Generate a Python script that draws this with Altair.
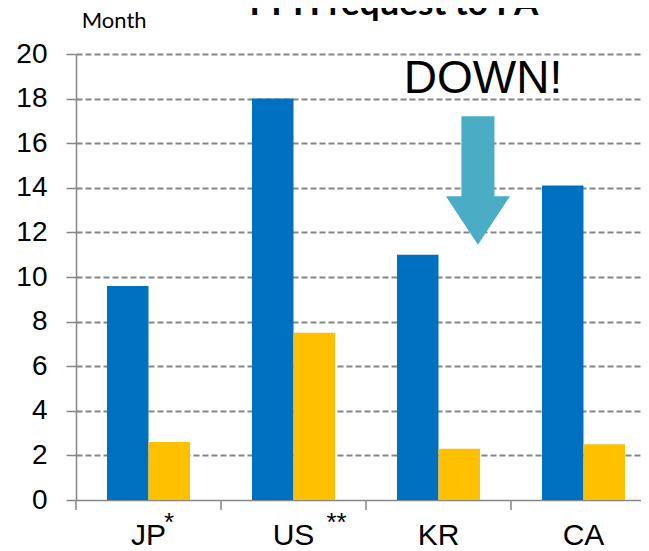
import altair as alt
import pandas as pd

# ---- data ----
countries = ["JP", "US", "KR", "CA"]
series_names = ["Normal", "PPH"]
normal_months = [9.6, 18.0, 11.0, 14.1]
pph_months = [2.6, 7.5, 2.3, 2.5]
series_colors = ["#0070C0", "#FFC000"]
y_ticks = [0, 2, 4, 6, 8, 10, 12, 14, 16, 18, 20]

title_text = "PPH request to FA"
unit_text = "Month"

# annotation: "DOWN!" text and arrow near KR
down_text = "DOWN!"
down_country = "KR"
down_value = 18.23
arrow_top = 17.2
arrow_tip = 11.45

# superscript marks next to axis labels
star_countries = ["JP", "US"]
star_texts = ["*", "**"]

rows = []
for i, c in enumerate(countries):
    rows.append({"country": c, "series": series_names[0], "months": normal_months[i]})
    rows.append({"country": c, "series": series_names[1], "months": pph_months[i]})
bars_df = pd.DataFrame(rows)

x_scale = alt.Scale(domain=countries, range=[0, 580], paddingInner=0, paddingOuter=0)
y_scale = alt.Scale(domain=[0, 20], nice=False)

GRAY = "#868686"

bars = alt.Chart(bars_df).mark_bar().encode(
    x=alt.X("country:N", scale=x_scale, sort=countries,
            axis=alt.Axis(title=None, ticks=False, tickSize=0, labelAngle=0,
                          labelFont="Liberation Sans", labelFontSize=30,
                          labelColor="black", labelPadding=20,
                          domainColor=GRAY, domainWidth=1.5, grid=False)),
    xOffset=alt.XOffset("series:N", sort=series_names,
                        scale=alt.Scale(paddingInner=0, paddingOuter=0.747)),
    y=alt.Y("months:Q", scale=y_scale,
            axis=alt.Axis(title=None, values=y_ticks, tickSize=10, tickColor=GRAY,
                          tickWidth=1.5, labelFont="Liberation Sans", labelFontSize=28,
                          labelColor="black", labelPadding=19,
                          domainColor=GRAY, domainWidth=1.5,
                          grid=True, gridColor=GRAY, gridWidth=2,
                          gridOpacity={"condition": {"test": "datum.value === 0", "value": 0},
                                       "value": 1},
                          gridDash=[6, 3])),
    color=alt.Color("series:N", sort=series_names,
                    scale=alt.Scale(domain=series_names, range=series_colors),
                    legend=None),
)

# category boundary ticks on the x axis
tick_df = pd.DataFrame({"country": countries})
xticks = alt.Chart(tick_df).mark_rule(color=GRAY, strokeWidth=1.5).encode(
    x=alt.X("country:N", scale=x_scale, sort=countries, bandPosition=0),
    y=alt.value(446),
    y2=alt.value(456),
)

# asterisks
star_df = pd.DataFrame({"country": star_countries, "txt": star_texts})
stars_jp = alt.Chart(star_df.iloc[[0]]).mark_text(
    font="Liberation Sans", fontSize=26, baseline="top", align="center", color="black"
).encode(
    x=alt.X("country:N", scale=x_scale, sort=countries, bandPosition=0.641),
    y=alt.value(456),
    text="txt:N",
)
stars_us = alt.Chart(star_df.iloc[[1]]).mark_text(
    font="Liberation Sans", fontSize=26, baseline="top", align="center", color="black"
).encode(
    x=alt.X("country:N", scale=x_scale, sort=countries, bandPosition=0.797),
    y=alt.value(456),
    text="txt:N",
)

# DOWN! text
down_df = pd.DataFrame({"country": [down_country], "v": [down_value], "txt": [down_text]})
down = alt.Chart(down_df).mark_text(
    font="Liberation Sans", fontSize=46, baseline="alphabetic", align="center", color="black"
).encode(
    x=alt.X("country:N", scale=x_scale, sort=countries, bandPosition=0.807),
    y=alt.Y("v:Q", scale=y_scale),
    text="txt:N",
)

# arrow as a custom symbol centered between its top and tip
arrow_path = ("M -0.257 -1 L 0.257 -1 L 0.257 0.244 L 0.498 0.244 L 0 1 "
              "L -0.498 0.244 L -0.257 0.244 Z")
arrow_df = pd.DataFrame({"country": [down_country],
                         "mid": [(arrow_top + arrow_tip) / 2]})
arrow = alt.Chart(arrow_df).mark_point(
    shape=arrow_path, size=16538, filled=True, color="#4BACC6", opacity=1, strokeWidth=0
).encode(
    x=alt.X("country:N", scale=x_scale, sort=countries, bandPosition=0.772),
    y=alt.Y("mid:Q", scale=y_scale),
)

# title (cut at the top of the picture) and unit label
title_df = pd.DataFrame({"txt": [title_text]})
title = alt.Chart(title_df).mark_text(
    font="Lato", fontWeight="bold", fontSize=35, baseline="alphabetic",
    align="center", color="black"
).encode(x=alt.value(318), y=alt.value(-39), text="txt:N")

unit_df = pd.DataFrame({"txt": [unit_text]})
unit = alt.Chart(unit_df).mark_text(
    font="Lato", fontSize=22, baseline="alphabetic", align="left", color="black"
).encode(x=alt.value(5.7), y=alt.value(-25.7), text="txt:N")

chart = alt.layer(bars, xticks, stars_jp, stars_us, arrow, down, title, unit).properties(
    width=565,
    height=446,
    padding={"left": 68, "top": 46, "right": 0, "bottom": 51},
    autosize=alt.AutoSizeParams(type="none"),
    background="white",
).configure_view(stroke=None)

chart.save("out.html", embed_options={"renderer": "svg", "actions": False})
